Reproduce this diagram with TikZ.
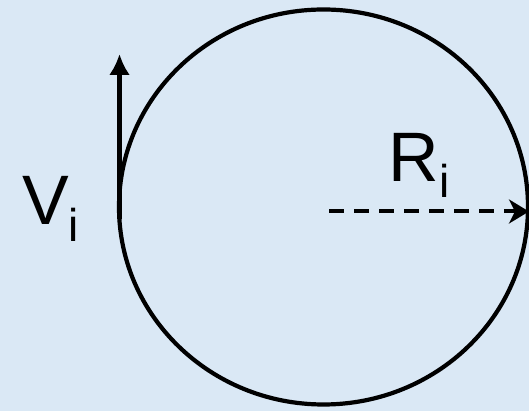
\documentclass[tikz,border=0pt]{standalone}
\usepackage{fontspec}
\setmainfont{Liberation Sans}
\usepackage{xcolor}
\usepackage{tikz}
\usetikzlibrary{arrows.meta, positioning, shapes.geometric}
\definecolor{skyback}{HTML}{DAE8F5}

\begin{document}
\begin{tikzpicture}[x=1pt, y=1pt,
  orbitline/.style={draw=black, line width=4.2pt},
  biglabel/.style={font=\fontsize{70}{74}\selectfont, inner sep=0pt, anchor=base west}]
\fill[skyback] (0,0) rectangle (529,411);
\useasboundingbox (0,0) rectangle (529,411);
\node[ellipse, orbitline, minimum width=409pt, minimum height=395pt, inner sep=0pt]
  (orbit) at (323.5,204) {};
\coordinate (ctr) at (329,199.5);
\coordinate (rim) at (529,199.5);
\draw[line width=4pt, dash pattern=on 15pt off 10pt, -{Stealth[length=20pt, width=24pt, inset=6pt]}]
  (ctr) -- (rim);
\coordinate (vfoot) at (119.5,192);
\coordinate (vhead) at (119.5,357);
\draw[line width=5.5pt, -{Latex[length=21pt, width=21pt]}] (vfoot) -- (vhead);
\node[biglabel] (vlabel) at (22,186)
  {V\raisebox{-17pt}{\fontsize{46}{48}\selectfont i}};
\node[biglabel] (rlabel) at (388,229)
  {R\kern1pt\raisebox{-16pt}{\fontsize{46}{48}\selectfont i}};
\end{tikzpicture}
\end{document}
